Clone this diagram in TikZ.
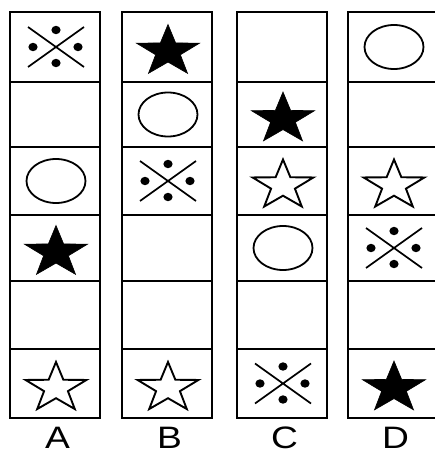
\documentclass[tikz,border=0pt]{standalone}
\usepackage{fontspec}
\setmainfont{Liberation Sans}
\newfontfamily\labelfont[FakeStretch=1.2]{Liberation Sans}
\usetikzlibrary{shapes.geometric}

\tikzset{
    cellbox/.style={draw, line width=2.2pt},
    fullstar/.style={star, star points=5, star point ratio=2.55, draw, fill=black, line width=0.6pt, inner sep=0pt, minimum size=54pt},
    openstar/.style={star, star points=5, star point ratio=2.55, draw, fill=white, line width=1.9pt, inner sep=0pt, minimum size=52pt},
    collabel/.style={font=\labelfont\fontsize{31}{31}\selectfont, anchor=base, inner sep=0pt},
    pics/none/.style={code={}},
    pics/fullstar/.style={code={\node[fullstar, xscale=1.23, transform shape] (-s) at (0,4.5) {};}},
    pics/openstar/.style={code={\node[openstar, xscale=1.23, transform shape] (-s) at (0,4.5) {};}},
    pics/ring/.style={code={\draw[line width=1.8pt] (0,0) ellipse [x radius=29.5pt, y radius=22pt];}},
    pics/crossdots/.style={code={
        \draw[line width=1.7pt] (-28,-20) -- (28,20) (-28,20) -- (28,-20);
        \foreach \dx/\dy in {0/-17, 0/16, -23/0, 22/0}
            \fill (\dx,\dy) ellipse [x radius=4.6pt, y radius=4.2pt];
    }}
}

\begin{document}
\begin{tikzpicture}[x=1pt, y=-1pt]
\useasboundingbox (0,0) rectangle (434,452);

% columns: left edge / label / symbols from top to bottom
\foreach \cl/\lab/\items in {
    10/A/{crossdots,none,ring,fullstar,none,openstar},
    122/B/{fullstar,ring,crossdots,none,none,openstar},
    237/C/{none,fullstar,openstar,ring,none,crossdots},
    348/D/{ring,none,openstar,crossdots,none,fullstar}}{
    \pgfmathsetmacro\cx{\cl+45}
    \draw[cellbox] (\cl,12) rectangle ++(90,406);
    \foreach \ry in {82,147,215,281,349}
        \draw[cellbox] (\cl,\ry) -- ++(90,0);
    \foreach \sym [count=\r] in \items {
        \pgfmathsetmacro\cy{{47,114.5,181,248,315,383.5}[\r-1]}
        \pic (\lab\r) at (\cx+1,\cy) {\sym};
    }
    \node[collabel] (lab\lab) at (\cx+2.5,448) {\lab};
}
\end{tikzpicture}
\end{document}
